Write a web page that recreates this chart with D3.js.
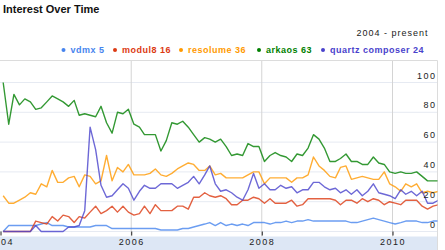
<!DOCTYPE html>
<html>
<head>
<meta charset="utf-8">
<script src="https://cdn.jsdelivr.net/npm/d3@7"></script>
<style>
  body { margin: 0; background: #fff; }
  svg { display: block; font-family: "Liberation Sans", Arial, sans-serif; }
</style>
</head>
<body>
<svg width="445" height="250"></svg>
<script>
// search terms, averages shown in the legend and line colours
var terms = ["vdmx", "modul8", "resolume", "arkaos", "quartz composer"];
var averages = [5, 16, 36, 63, 24];
var colors = ["#4684ee", "#dc3912", "#ff9900", "#008000", "#4942cc"];

// monthly values, Jan 2004 - Sep 2010 (81 months)
var vdmx = [0,4,4,4,4,4,4,5,6,4, 4,4,3,3,3,3,3,4,4,4, 2,2,2,2,2,2,2,2,2,1,
  1,1,1,2,2,3,4,5,6,4, 6,4,5,4,5,4,6,6,6,5, 6,6,7,6,7,7,8,7,7,7,
  7,7,7,7,6,6,7,8,9,8, 7,6,5,6,7,7,7,6,6,7, 7];
var modul8 = [0,0,0,0,0,0,7,6,5,10, 7,11,10,6,10,9,13,17,12,14, 17,13,17,13,11,12,17,12,18,14,
  14,14,17,17,15,23,23,26,24,23, 24,22,18,18,21,21,23,22,19,22, 19,19,19,21,17,18,22,22,22,22,
  22,21,18,21,21,19,22,20,22,21, 18,20,19,18,21,21,21,17,15,17, 18];
var resolume = [24,19,19,21,23,26,25,32,30,41, 33,33,36,37,30,38,37,32,34,51, 34,43,40,45,38,38,38,39,42,38,
  37,39,42,44,46,45,41,41,44,38, 39,36,36,36,36,38,40,40,32,36, 36,36,36,33,36,36,38,50,44,41,
  37,36,43,44,35,36,37,36,35,35, 40,32,30,27,32,30,32,26,27,26, 27];
var arkaos = [100,72,92,85,89,87,82,83,87,91, 89,87,84,88,78,79,78,77,84,73, 66,80,79,82,72,70,65,65,65,54,
  61,73,72,74,70,65,60,63,62,60, 62,57,51,52,51,59,57,57,47,51, 53,51,50,47,52,51,56,65,62,56,
  47,47,49,52,47,47,45,45,50,46, 45,40,39,40,39,39,40,37,34,34, 34];
var quartz = [0,0,0,0,0,0,4,0,0,0, 0,0,3,3,4,14,70,55,31,23, 24,28,32,29,21,27,31,29,29,32,
  32,32,29,31,33,37,32,38,44,32, 27,28,26,23,21,28,39,29,32,28, 28,31,29,30,26,28,28,33,33,30,
  28,29,26,28,25,28,24,27,32,26, 25,24,22,28,25,27,24,27,19,19, 21];

var yTicks = [0, 20, 40, 60, 80, 100];
var gridYears = [2006, 2008, 2010];

var series = [vdmx, modul8, resolume, arkaos, quartz];
var months = d3.timeMonth.range(new Date(2004, 0, 1), new Date(2010, 9, 1))
  .map(function(d) { return d3.timeDay.offset(d, 15); });

var svg = d3.select("svg");

var x = d3.scaleTime()
  .domain([new Date(2004, 0, 1), new Date(2010, 0, 1)])
  .range([0.5, 392.5]);
var y = d3.scaleLinear()
  .domain([0, 100])
  .range([231.5, 82.5]);

var plotTop = 60.5, plotRight = 437.5, plotBottom = 231.5;

// header
svg.append("text")
  .attr("x", 3).attr("y", 12.5)
  .style("font-size", "11px").style("font-weight", "bold").style("fill", "#111")
  .text("Interest Over Time");

svg.append("text")
  .attr("x", 428.5).attr("y", 36)
  .attr("text-anchor", "end")
  .style("font-size", "9px").style("letter-spacing", "1px").style("fill", "#222")
  .text("2004 - present");

// legend
var legendX = [63.5, 115, 181, 259, 323];
var legend = svg.append("g").selectAll("g")
  .data(terms)
  .enter().append("g")
    .attr("transform", function(d, i) { return "translate(" + legendX[i] + ",0)"; });
legend.append("circle")
  .attr("cx", 0).attr("cy", 50).attr("r", 2)
  .attr("fill", function(d, i) { return colors[i]; });
legend.append("text")
  .attr("x", 7).attr("y", 52.7)
  .style("font-size", "9px").style("font-weight", "bold").style("letter-spacing", "0.5px")
  .style("fill", function(d, i) { return colors[i]; })
  .text(function(d, i) { return d + " " + averages[i]; });

// axis band
svg.append("rect")
  .attr("x", 0).attr("y", 236.5).attr("width", plotRight).attr("height", 14)
  .attr("fill", "#dde7f5");

// horizontal grid
svg.append("g").selectAll("line")
  .data(yTicks)
  .enter().append("line")
    .attr("x1", 0).attr("x2", plotRight)
    .attr("y1", function(d) { return y(d); })
    .attr("y2", function(d) { return y(d); })
    .attr("stroke", "#e6eaf2");

// year grid
svg.append("g").selectAll("line")
  .data(gridYears)
  .enter().append("line")
    .attr("x1", function(d) { return x(new Date(d, 0, 1)); })
    .attr("x2", function(d) { return x(new Date(d, 0, 1)); })
    .attr("y1", plotTop).attr("y2", plotBottom + 5)
    .attr("stroke", "#d4d4d4");

// frame
svg.append("line")
  .attr("x1", 0).attr("x2", plotRight).attr("y1", plotTop).attr("y2", plotTop)
  .attr("stroke", "#dcdcdc");
svg.append("line")
  .attr("x1", plotRight).attr("x2", plotRight).attr("y1", plotTop).attr("y2", 250)
  .attr("stroke", "#dcdcdc");

svg.append("clipPath").attr("id", "plot")
  .append("rect").attr("x", 0).attr("y", plotTop).attr("width", plotRight).attr("height", 180);

var line = d3.line()
  .x(function(d, i) { return x(months[i]); })
  .y(function(d) { return y(d); });

svg.append("g")
    .attr("clip-path", "url(#plot)")
  .selectAll("path")
  .data(series)
  .enter().append("path")
    .attr("d", line)
    .attr("fill", "none")
    .attr("stroke", function(d, i) { return colors[i]; })
    .attr("stroke-width", 1.4)
    .attr("stroke-opacity", 0.8)
    .attr("stroke-linejoin", "round");

// y labels, right side inside the plot
svg.append("g").selectAll("text")
  .data(yTicks)
  .enter().append("text")
    .attr("x", 436.5)
    .attr("y", function(d) { return y(d) - 4; })
    .attr("text-anchor", "end")
    .style("font-size", "9px").style("letter-spacing", "1.5px").style("fill", "#222")
    .text(function(d) { return d; });

// x axis
var xAxis = d3.axisBottom(x)
  .ticks(d3.timeYear.every(2))
  .tickFormat(d3.timeFormat("%Y"))
  .tickSize(4)
  .tickPadding(3);

var gx = svg.append("g")
  .attr("transform", "translate(0," + plotBottom + ")")
  .call(xAxis);
gx.select(".domain").remove();
gx.selectAll(".tick line").attr("stroke", "#222");
gx.selectAll(".tick text")
  .attr("fill", "#222")
  .style("font-family", "\"Liberation Sans\", Arial, sans-serif")
  .style("font-size", "9px").style("letter-spacing", "1.5px");
</script>
</body>
</html>
